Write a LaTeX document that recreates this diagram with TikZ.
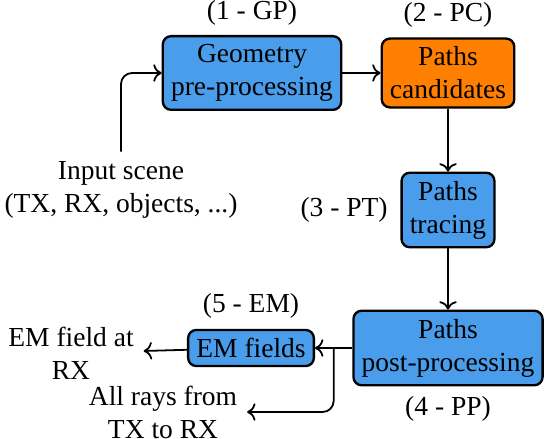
\documentclass[tikz,border=0pt]{standalone}
\usepackage{fontspec}
\setmainfont{Liberation Serif}
\usepackage{xcolor}
\usepackage{tikz}
\usetikzlibrary{positioning, arrows.meta, calc}

\definecolor{stageblue}{RGB}{74,157,234}
\definecolor{stageorange}{RGB}{255,128,0}

\begin{document}
\begin{tikzpicture}[>=To, x=0.3636pt, y=-0.3636pt, line width=0.65pt,
    stage/.style={draw, line width=0.85pt, rounded corners=3pt, fill=stageblue, align=center, inner sep=3pt}]
    \useasboundingbox (0,0) rectangle (546,438);
    % Stages
    \node (gp) [stage] at (252,73) {Geometry\\pre-processing}; % Geometry pre-processing
    \node (pc) [stage, fill=stageorange] at (448,73) {Paths\\candidates}; % Paths candidates
    \node (pt) [stage] at (448,210) {Paths\\tracing}; % Paths tracing
    \node (pp) [stage] at (448,348) {Paths\\post-processing}; % Paths post-processing
    \node (em) [stage] at (251,348) {EM fields}; % EM fields

    % Stage labels
    \node (gplabel) [above=0pt of gp] {(1 - GP)};
    \node (pclabel) [above=0pt of pc] {(2 - PC)};
    \node (ptlabel) [left=1pt of pt] {(3 - PT)};
    \node (pplabel) [below=0pt of pp] {(4 - PP)};
    \node (emlabel) [above=0pt of em] {(5 - EM)};

    % Inputs and outputs
    \node (scene) [align=center] at (121,190) {Input scene\\(TX, RX, objects, ...)};
    \node (emout) [align=center] at (71,353) {EM field at\\RX};
    \node (rays) [align=center] at (163,412) {All rays from\\TX to RX};
    \coordinate (split) at ($(pp.west)!0.5!(em.east)$);

    % Arrows
    \draw[->, rounded corners=4pt] (scene.north) |- (gp.west);
    \draw[->] (gp) -- (pc);
    \draw[->] (pc) -- (pt);
    \draw[->] (pt) -- (pp);
    \draw[->] (pp) -- (em);
    \draw[->] (em) -- (emout);
    \draw[->, rounded corners=4pt] (split) |- (rays.east);
\end{tikzpicture}
\end{document}
